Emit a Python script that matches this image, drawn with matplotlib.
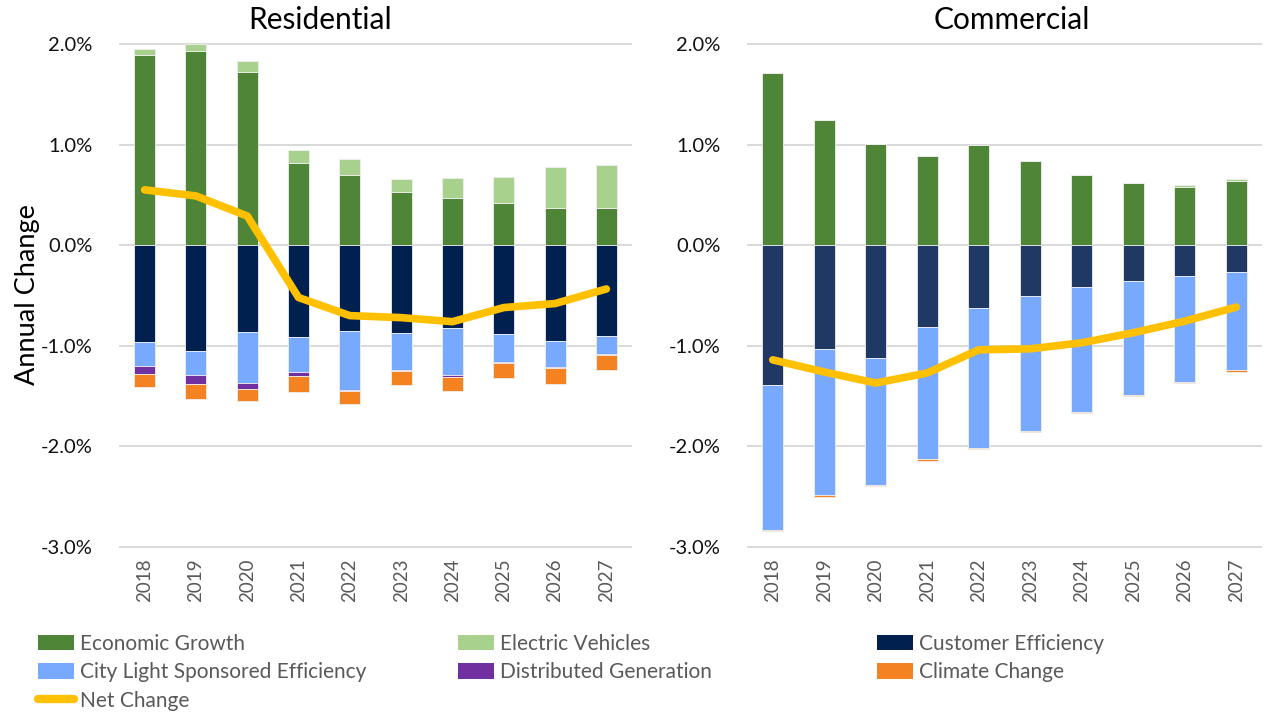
import matplotlib

matplotlib.use("Agg")
import matplotlib.pyplot as plt
import numpy as np
from matplotlib.lines import Line2D
from matplotlib.patches import Patch
from matplotlib.ticker import FuncFormatter

plt.rcParams["font.family"] = ["Lato", "DejaVu Sans"]

years = ["2018", "2019", "2020", "2021", "2022", "2023", "2024", "2025", "2026", "2027"]

# Residential components, % annual change
res_econ = [1.89, 1.93, 1.72, 0.815, 0.70, 0.525, 0.47, 0.415, 0.37, 0.37]
res_ev = [0.06, 0.07, 0.11, 0.13, 0.16, 0.13, 0.195, 0.265, 0.405, 0.43]
res_cust = [-0.965, -1.05, -0.86, -0.91, -0.85, -0.87, -0.82, -0.88, -0.955, -0.90]
res_city = [-0.235, -0.24, -0.505, -0.35, -0.59, -0.37, -0.47, -0.28, -0.26, -0.18]
res_dg = [-0.08, -0.085, -0.065, -0.04, -0.01, -0.01, -0.02, -0.01, -0.01, -0.01]
res_climate = [-0.13, -0.155, -0.12, -0.155, -0.125, -0.14, -0.135, -0.155, -0.15, -0.15]
res_net = [0.55, 0.49, 0.29, -0.52, -0.70, -0.72, -0.76, -0.62, -0.58, -0.435]

# Commercial components, % annual change
com_econ = [1.71, 1.245, 1.01, 0.89, 1.00, 0.835, 0.695, 0.615, 0.575, 0.64]
com_ev = [0, 0, 0, 0, 0, 0, 0.003, 0.008, 0.02, 0.02]
com_cust = [-1.385, -1.03, -1.125, -0.81, -0.625, -0.505, -0.42, -0.355, -0.305, -0.27]
com_city = [-1.445, -1.45, -1.255, -1.32, -1.39, -1.345, -1.24, -1.13, -1.055, -0.975]
com_dg = [0, 0, 0, 0, 0, 0, 0, 0, 0, 0]
com_climate = [-0.015, -0.02, -0.01, -0.02, -0.015, -0.01, -0.01, -0.01, -0.005, -0.02]
com_net = [-1.14, -1.26, -1.37, -1.27, -1.04, -1.03, -0.97, -0.87, -0.755, -0.615]

colors = {
    "Economic Growth": "#4e8536",
    "Electric Vehicles": "#a9d18e",
    "Customer Efficiency": "#002050",
    "City Light Sponsored Efficiency": "#77a9ff",
    "Distributed Generation": "#7030a0",
    "Climate Change": "#f58220",
}
NET_COLOR = "#ffc000"
GRID = "#d9d9d9"

W, H = 1265, 712


def draw_panel(ax, econ, ev, cust, city, dg, climate, net, cust_color):
    x = np.arange(len(years))
    kw = dict(width=0.41, edgecolor="#eeeeee", linewidth=0.6, zorder=2)
    ax.bar(x, econ, color=colors["Economic Growth"], **kw)
    ax.bar(x, ev, bottom=econ, color=colors["Electric Vehicles"], **kw)
    bottom = np.zeros(len(years))
    for vals, col in [
        (cust, cust_color),
        (city, colors["City Light Sponsored Efficiency"]),
        (dg, colors["Distributed Generation"]),
        (climate, colors["Climate Change"]),
    ]:
        vals = np.asarray(vals, dtype=float)
        ax.bar(x, vals, bottom=bottom, color=col, **kw)
        bottom = bottom + vals
    ax.plot(x, net, color=NET_COLOR, lw=5.5, solid_capstyle="round",
            solid_joinstyle="round", zorder=3)

    ax.set_xlim(-0.5, len(years) - 0.5)
    ax.set_ylim(-3.02, 2.02)
    ax.set_yticks([-3, -2, -1, 0, 1, 2])
    ax.yaxis.set_major_formatter(FuncFormatter(lambda v, _: f"{v:.1f}%"))
    ax.grid(axis="y", color=GRID, lw=1.4, zorder=0)
    ax.set_axisbelow(True)
    for s in ax.spines.values():
        s.set_visible(False)
    ax.set_xticks(x)
    ax.set_xticklabels(years, rotation=90, color="#595959", fontsize=13.5)
    ax.tick_params(axis="x", length=0, pad=7)
    ax.tick_params(axis="y", length=0, pad=19, labelsize=14.5, labelcolor="#111111")


fig = plt.figure(figsize=(W / 100, H / 100), dpi=100)
bottom_f = 1 - 549 / H
height_f = (549 - 42) / H
ax_res = fig.add_axes([119 / W, bottom_f, (632 - 119) / W, height_f])
ax_com = fig.add_axes([747 / W, bottom_f, (1262 - 747) / W, height_f])

draw_panel(ax_res, res_econ, res_ev, res_cust, res_city, res_dg, res_climate, res_net,
           colors["Customer Efficiency"])
draw_panel(ax_com, com_econ, com_ev, com_cust, com_city, com_dg, com_climate, com_net,
           "#203864")

fig.text(320 / W, 1 - 20 / H, "Residential", ha="center", va="center", fontsize=21.5)
fig.text(1012 / W, 1 - 20 / H, "Commercial", ha="center", va="center", fontsize=21.5)
fig.text(28 / W, 1 - 295 / H, "Annual Change", rotation=90, ha="center", va="center",
         fontsize=19.5)


# legend, three fixed columns like the original
def patch(name):
    return Patch(facecolor=colors[name], edgecolor="none")


net_handle = Line2D([0], [0], color=NET_COLOR, lw=6, solid_capstyle="round")
columns = [
    ([patch("Economic Growth"), patch("City Light Sponsored Efficiency"), net_handle],
     ["Economic Growth", "City Light Sponsored Efficiency", "Net Change"], 38),
    ([patch("Electric Vehicles"), patch("Distributed Generation")],
     ["Electric Vehicles", "Distributed Generation"], 458),
    ([patch("Customer Efficiency"), patch("Climate Change")],
     ["Customer Efficiency", "Climate Change"], 877),
]
for handles, labels, xpix in columns:
    leg = fig.legend(handles, labels, loc="upper left",
                     bbox_to_anchor=(xpix / W, 1 - 634 / H), frameon=False,
                     fontsize=15, handlelength=1.75, handleheight=0.75,
                     handletextpad=0.25, labelspacing=0.4, borderaxespad=0,
                     borderpad=0)
    for t in leg.get_texts():
        t.set_color("#595959")

fig.savefig("out.png", dpi=100)
